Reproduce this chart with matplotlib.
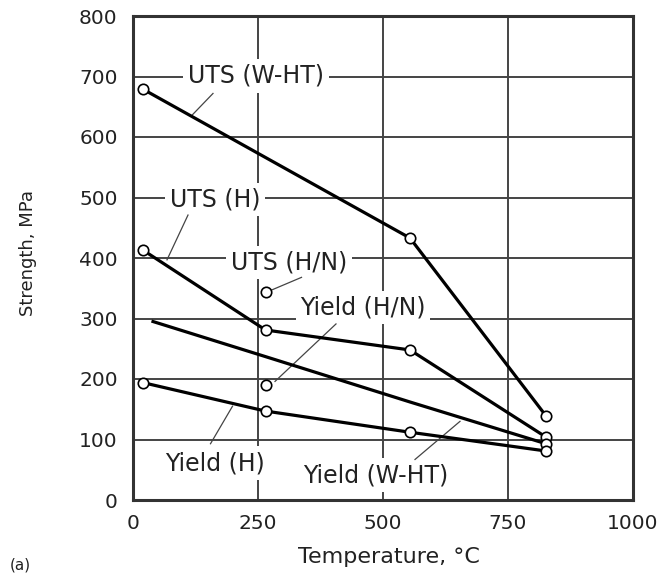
import matplotlib
matplotlib.use('Agg')
import matplotlib.pyplot as plt

# strength vs temperature
uts_wht_x = [20, 554, 826]
uts_wht_y = [679, 433, 139]
uts_h_x = [20, 265, 554, 826]
uts_h_y = [413, 281, 248, 104]
uts_hn_x = [265]
uts_hn_y = [343]
yield_hn_x = [265]
yield_hn_y = [190]
yield_wht_x = [40, 265, 554, 826]
yield_wht_y = [295, 237, 162, 93]
yield_h_x = [20, 265, 554, 826]
yield_h_y = [194, 147, 112, 81]

x_ticks = [0, 250, 500, 750, 1000]
y_ticks = [0, 100, 200, 300, 400, 500, 600, 700, 800]

# label text, label centre, leader line (from label side to curve)
labels = ['UTS (W-HT)', 'UTS (H)', 'UTS (H/N)', 'Yield (H/N)', 'Yield (H)', 'Yield (W-HT)']
label_pos = [(246, 701), (164, 497), (312, 393), (460, 318), (163, 61), (486, 41)]
leaders = [((160, 672), (118, 636)),
           ((110, 471), (68, 397)),
           ((337, 368), (277, 347)),
           ((406, 291), (284, 196)),
           ((155, 93), (199, 155)),
           ((564, 67), (654, 130))]

plt.rcParams['font.family'] = ['DejaVu Sans']

fig = plt.figure(figsize=(6.67, 5.75), dpi=100)
ax = fig.add_axes([133/667, 75/575, 500/667, 484/575])

ax.set_xlim(0, 1000)
ax.set_ylim(0, 800)
ax.set_xticks(x_ticks)
ax.set_yticks(y_ticks)
ax.tick_params(length=0, labelsize=14.5, colors='#222222')
ax.tick_params(axis='y', pad=11)
ax.tick_params(axis='x', pad=10)
for s in ax.spines.values():
    s.set_linewidth(2.2)
    s.set_color('#333333')

ax.set_axisbelow(True)
ax.grid(True, color='#444444', lw=1.4)

line_kw = dict(color='black', lw=2.3, marker='o', ms=7.5, mfc='white',
               mec='black', mew=1.2, zorder=4)
ax.plot(uts_wht_x, uts_wht_y, **line_kw)
ax.plot(uts_h_x, uts_h_y, **line_kw)
ax.plot(uts_hn_x, uts_hn_y, **line_kw)
ax.plot(yield_hn_x, yield_hn_y, **line_kw)
ax.plot(yield_wht_x, yield_wht_y, markevery=[3], **line_kw)
ax.plot(yield_h_x, yield_h_y, **line_kw)

for txt, (lx, ly), (p0, p1) in zip(labels, label_pos, leaders):
    ax.text(lx, ly, txt, ha='center', va='center', fontsize=17, color='#222222',
            bbox=dict(boxstyle='square,pad=0.2', fc='white', ec='none'), zorder=3)
    ax.plot([p0[0], p1[0]], [p0[1], p1[1]], color='#444444', lw=0.9, zorder=3.5)

ax.set_xlabel('Temperature, °C', fontsize=16, color='#222222')
ax.xaxis.set_label_coords(0.512, -0.097)
ax.set_ylabel('Strength, MPa', fontsize=13, color='#222222')
ax.yaxis.set_label_coords(-0.192, 0.511)

# panel tag, cut off at the bottom edge in the source image
fig.text(10/667, 2/575, '(a)', fontsize=11, va='bottom', ha='left', color='#222222')

fig.savefig('out.png', dpi=100)
